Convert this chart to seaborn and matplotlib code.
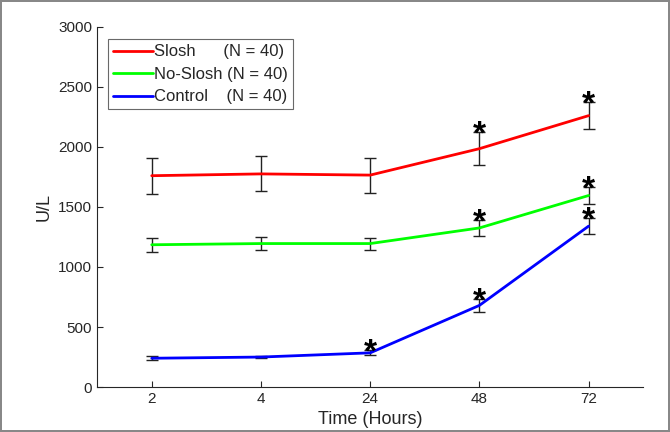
import numpy as np
import pandas as pd
import matplotlib
matplotlib.use("Agg")
import matplotlib.pyplot as plt
import seaborn as sns

# Time points (categorical, evenly spaced on the axis)
hours = ["2", "4", "24", "48", "72"]

slosh_mean = [1760, 1775, 1765, 1985, 2260]
slosh_err = [150, 145, 145, 135, 110]
noslosh_mean = [1185, 1195, 1195, 1325, 1595]
noslosh_err = [60, 55, 50, 65, 68]
control_mean = [240, 250, 285, 680, 1340]
control_err = [15, 12, 20, 52, 68]

# which points get a significance star
slosh_sig = [False, False, False, True, True]
noslosh_sig = [False, False, False, True, True]
control_sig = [False, False, True, True, True]

groups = ["Slosh", "No-Slosh", "Control"]
labels = ["Slosh      (N = 40)", "No-Slosh (N = 40)", "Control    (N = 40)"]
colors = ["#ff0000", "#00ff00", "#0000ff"]

means = [slosh_mean, noslosh_mean, control_mean]
errs = [slosh_err, noslosh_err, control_err]
sigs = [slosh_sig, noslosh_sig, control_sig]

x = np.arange(len(hours))
df = pd.DataFrame({
    "x": np.tile(x, 3),
    "value": np.concatenate(means),
    "group": np.repeat(groups, len(hours)),
})

sns.set_style("ticks")
plt.rcParams["font.family"] = ["Liberation Sans", "DejaVu Sans"]

fig = plt.figure(figsize=(6.7, 4.32), dpi=100)
fig.patch.set_edgecolor("#888888")
fig.patch.set_linewidth(1.5)
ax = fig.add_axes([0.145, 0.104, 0.815, 0.834])

# error bars first so the lines sit on top
for m, e in zip(means, errs):
    ax.errorbar(x, m, yerr=e, fmt="none", ecolor="#222222", elinewidth=1,
                capsize=4, capthick=1, zorder=2)

sns.lineplot(data=df, x="x", y="value", hue="group", hue_order=groups,
             palette=colors, linewidth=2, ax=ax, legend=False, zorder=3)

# significance stars, sitting on top of the error bar
for m, e, s in zip(means, errs, sigs):
    for xi, mi, ei, si in zip(x, m, e, s):
        if si:
            ax.text(xi, mi + ei - 95, "*", ha="center", va="baseline",
                    fontsize=24, fontweight="bold", color="black", zorder=4)

handles = [plt.Line2D([], [], color=c, lw=2) for c in colors]
leg = ax.legend(handles, labels, loc="upper left", bbox_to_anchor=(0.02, 0.965),
                fontsize=12, frameon=True, fancybox=False, handlelength=2.4,
                handletextpad=0.05, borderpad=0.3, labelspacing=0.45,
                borderaxespad=0)
leg.get_frame().set_edgecolor("#444444")
leg.get_frame().set_linewidth(0.8)

ax.set_xlim(-0.5, 4.5)
ax.set_ylim(0, 3000)
ax.set_xticks(x)
ax.set_xticklabels(hours)
ax.set_yticks(np.arange(0, 3001, 500))
ax.tick_params(direction="in", length=4, labelsize=11, colors="#262626")
ax.set_xlabel("Time (Hours)", fontsize=13)
ax.set_ylabel("U/L", fontsize=13)
for side in ["top", "right"]:
    ax.spines[side].set_visible(False)
for side in ["left", "bottom"]:
    ax.spines[side].set_color("#262626")
    ax.spines[side].set_linewidth(0.8)

fig.savefig("out.png", dpi=100, edgecolor=fig.get_edgecolor())
